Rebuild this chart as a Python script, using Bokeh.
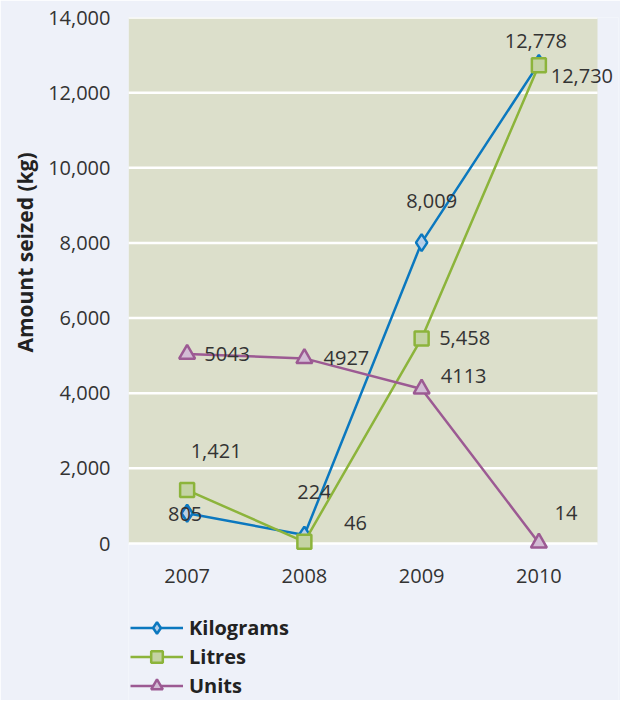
from bokeh.plotting import figure
from bokeh.models import (ColumnDataSource, Range1d, Legend, LegendItem, NumeralTickFormatter,
                          Title, BoxAnnotation)
from bokeh.core.properties import value
from bokeh.embed import file_html
from bokeh.resources import INLINE

years = ["2007", "2008", "2009", "2010"]
kilograms = [805, 224, 8009, 12778]
litres = [1421, 46, 5458, 12730]
units = [5043, 4927, 4113, 14]
y_ticks = [0, 2000, 4000, 6000, 8000, 10000, 12000, 14000]
y_max = 14000

# label offsets (screen px) -- style only
kg_dx = [-2, 10, 10, -3]
kg_dy = [1, -43, -42, -22]
li_dx = [29, 51, 43, 43]
li_dy = [-39, -19, 0, 11]
un_dx = [40, 42, 42, 27]
un_dy = [0, 0, -13, -30]

FONT = "Open Sans"
PAGE_BG = "#eef1f9"
PLOT_BG = "#dcdfcb"
TXT = "#333333"

# geometry (px): chart area 469 x 526, extra room right for labels and below for legend
AREA_W, AREA_H = 469, 526
FRAME_W, FRAME_H = 490, 683
n = len(years)
x_end = n * FRAME_W / AREA_W
y_start = -(FRAME_H - AREA_H) * y_max / AREA_H
xpos = [i + 0.5 for i in range(n)]

p = figure(x_range=Range1d(0, x_end), y_range=Range1d(y_start, y_max),
           frame_width=FRAME_W, frame_height=FRAME_H, output_backend="svg", toolbar_location=None,
           min_border_left=128, min_border_right=2, min_border_top=17, min_border_bottom=0)
p.background_fill_color = PAGE_BG
p.border_fill_color = PAGE_BG
p.outline_line_color = None
p.xgrid.grid_line_color = None
p.ygrid.grid_line_color = None
p.xaxis.visible = False

p.add_layout(BoxAnnotation(left=0, right=n, bottom=0, top=y_max, fill_color=PLOT_BG,
                           fill_alpha=1, line_color=None, level="underlay"))
p.segment(x0=[0] * len(y_ticks), x1=[n] * len(y_ticks), y0=y_ticks, y1=y_ticks,
          line_color="white", line_width=2.5)

p.yaxis.ticker = y_ticks
p.yaxis.formatter = NumeralTickFormatter(format="0,0")
p.yaxis.axis_line_color = None
p.yaxis.major_tick_line_color = None
p.yaxis.minor_tick_line_color = None
p.yaxis.major_label_text_font = FONT
p.yaxis.major_label_text_font_size = "20px"
p.yaxis.major_label_text_color = TXT
p.yaxis.major_label_standoff = 12

p.add_layout(Title(text="Amount seized (kg)", text_font=FONT, text_font_size="21px",
                   text_font_style="bold", text_color="#222222", align="right",
                   offset=135, standoff=13), "left")

# category labels under the chart area
p.text(x=xpos, y=[0] * n, text=years, y_offset=32, text_align="center",
       text_baseline="middle", text_font=value(FONT), text_font_size="20px", text_color=TXT)

series = [
    ("Kilograms", kilograms, "#0b78bf", "#b7cfe9", "diamond", 17, kg_dx, kg_dy, True),
    ("Litres", litres, "#8cb43b", "#c4d3a4", "square", 14, li_dx, li_dy, True),
    ("Units", units, "#9c5a93", "#d2bcd4", "triangle", 16, un_dx, un_dy, False),
]

items = []
for name, vals, lc, fc, marker, size, dx, dy, comma in series:
    labels = [f"{v:,}" if comma else str(v) for v in vals]
    src = ColumnDataSource(dict(x=xpos, y=vals, t=labels, dx=dx, dy=dy))
    ln = p.line("x", "y", source=src, line_color=lc, line_width=2.5)
    sc = p.scatter("x", "y", source=src, marker=marker, size=size, fill_color=fc,
                   line_color=lc, line_width=2.5)
    items.append(LegendItem(label=name, renderers=[ln, sc]))
    p.text("x", "y", text="t", source=src, x_offset="dx", y_offset="dy",
           text_align="center", text_baseline="middle", text_font=value(FONT),
           text_font_size="20px", text_color=TXT)

legend = Legend(items=items, location=(2, 0), orientation="vertical",
                background_fill_alpha=0, border_line_color=None,
                label_text_font=FONT, label_text_font_size="20px", label_text_font_style="bold",
                label_text_color="#222222", glyph_width=53, glyph_height=29,
                label_standoff=6, spacing=0, padding=0, margin=0)
p.add_layout(legend, "center")

open("out.html", "w").write(file_html(p, INLINE))
